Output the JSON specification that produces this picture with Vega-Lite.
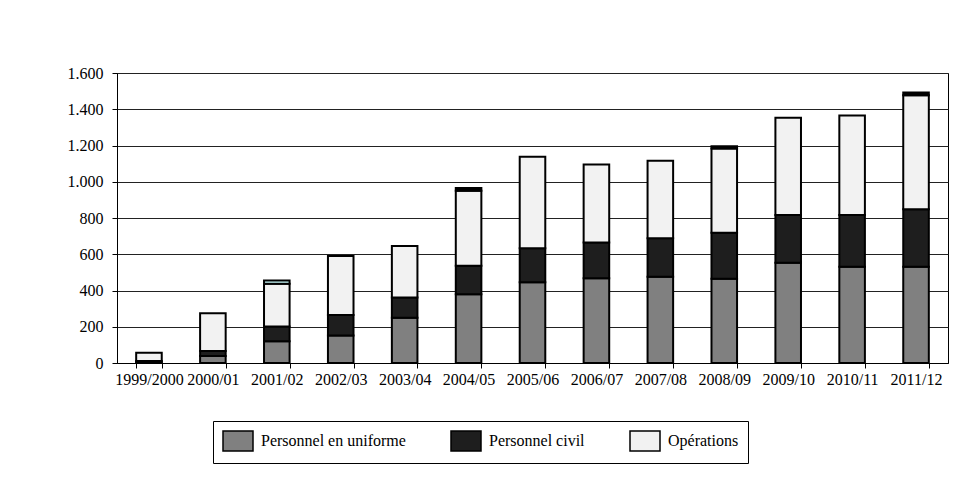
{
  "$schema": "https://vega.github.io/schema/vega-lite/v6.json",
  "width": 831,
  "height": 290,
  "autosize": {"type": "none"},
  "padding": {"left": 117, "top": 73, "right": 5, "bottom": 121},
  "background": "white",
  "config": {
    "font": "Liberation Serif",
    "view": {"stroke": "black", "strokeWidth": 1}
  },
  "data": {
    "values": [
      {"annee": "1999/2000", "serie": "Personnel en uniforme", "rang": 1, "valeur": 3},
      {"annee": "1999/2000", "serie": "Personnel civil", "rang": 2, "valeur": 8},
      {"annee": "1999/2000", "serie": "Opérations", "rang": 3, "valeur": 46},
      {"annee": "2000/01", "serie": "Personnel en uniforme", "rang": 1, "valeur": 38},
      {"annee": "2000/01", "serie": "Personnel civil", "rang": 2, "valeur": 28},
      {"annee": "2000/01", "serie": "Opérations", "rang": 3, "valeur": 209},
      {"annee": "2001/02", "serie": "Personnel en uniforme", "rang": 1, "valeur": 120},
      {"annee": "2001/02", "serie": "Personnel civil", "rang": 2, "valeur": 82},
      {"annee": "2001/02", "serie": "Opérations", "rang": 3, "valeur": 235},
      {"annee": "2001/02", "serie": "Autres (a)", "rang": 4, "valeur": 18},
      {"annee": "2002/03", "serie": "Personnel en uniforme", "rang": 1, "valeur": 152},
      {"annee": "2002/03", "serie": "Personnel civil", "rang": 2, "valeur": 113},
      {"annee": "2002/03", "serie": "Opérations", "rang": 3, "valeur": 325},
      {"annee": "2003/04", "serie": "Personnel en uniforme", "rang": 1, "valeur": 250},
      {"annee": "2003/04", "serie": "Personnel civil", "rang": 2, "valeur": 112},
      {"annee": "2003/04", "serie": "Opérations", "rang": 3, "valeur": 283},
      {"annee": "2004/05", "serie": "Personnel en uniforme", "rang": 1, "valeur": 380},
      {"annee": "2004/05", "serie": "Personnel civil", "rang": 2, "valeur": 157},
      {"annee": "2004/05", "serie": "Opérations", "rang": 3, "valeur": 413},
      {"annee": "2004/05", "serie": "Autres (b)", "rang": 5, "valeur": 15},
      {"annee": "2005/06", "serie": "Personnel en uniforme", "rang": 1, "valeur": 445},
      {"annee": "2005/06", "serie": "Personnel civil", "rang": 2, "valeur": 188},
      {"annee": "2005/06", "serie": "Opérations", "rang": 3, "valeur": 505},
      {"annee": "2006/07", "serie": "Personnel en uniforme", "rang": 1, "valeur": 467},
      {"annee": "2006/07", "serie": "Personnel civil", "rang": 2, "valeur": 198},
      {"annee": "2006/07", "serie": "Opérations", "rang": 3, "valeur": 430},
      {"annee": "2007/08", "serie": "Personnel en uniforme", "rang": 1, "valeur": 476},
      {"annee": "2007/08", "serie": "Personnel civil", "rang": 2, "valeur": 212},
      {"annee": "2007/08", "serie": "Opérations", "rang": 3, "valeur": 428},
      {"annee": "2008/09", "serie": "Personnel en uniforme", "rang": 1, "valeur": 465},
      {"annee": "2008/09", "serie": "Personnel civil", "rang": 2, "valeur": 254},
      {"annee": "2008/09", "serie": "Opérations", "rang": 3, "valeur": 465},
      {"annee": "2008/09", "serie": "Autres (b)", "rang": 5, "valeur": 12},
      {"annee": "2009/10", "serie": "Personnel en uniforme", "rang": 1, "valeur": 553},
      {"annee": "2009/10", "serie": "Personnel civil", "rang": 2, "valeur": 263},
      {"annee": "2009/10", "serie": "Opérations", "rang": 3, "valeur": 537},
      {"annee": "2010/11", "serie": "Personnel en uniforme", "rang": 1, "valeur": 531},
      {"annee": "2010/11", "serie": "Personnel civil", "rang": 2, "valeur": 285},
      {"annee": "2010/11", "serie": "Opérations", "rang": 3, "valeur": 550},
      {"annee": "2011/12", "serie": "Personnel en uniforme", "rang": 1, "valeur": 531},
      {"annee": "2011/12", "serie": "Personnel civil", "rang": 2, "valeur": 317},
      {"annee": "2011/12", "serie": "Opérations", "rang": 3, "valeur": 629},
      {"annee": "2011/12", "serie": "Autres (b)", "rang": 5, "valeur": 15}
    ]
  },
  "mark": {"type": "bar", "stroke": "black", "strokeWidth": 2},
  "encoding": {
    "x": {
      "field": "annee",
      "type": "nominal",
      "sort": ["1999/2000", "2000/01", "2001/02", "2002/03", "2003/04", "2004/05", "2005/06", "2006/07", "2007/08", "2008/09", "2009/10", "2010/11", "2011/12"],
      "scale": {"paddingInner": 0.6, "paddingOuter": 0.3},
      "axis": {
        "title": null,
        "labelAngle": 0,
        "labelFont": "Liberation Serif",
        "labelFontSize": 16,
        "labelColor": "black",
        "labelPadding": 3,
        "labelOverlap": false,
        "tickBand": "extent",
        "tickSize": 5,
        "tickColor": "black",
        "domainColor": "black"
      }
    },
    "y": {
      "field": "valeur",
      "type": "quantitative",
      "stack": "zero",
      "scale": {"domain": [0, 1600], "nice": false},
      "axis": {
        "title": null,
        "values": [0, 200, 400, 600, 800, 1000, 1200, 1400, 1600],
        "labelExpr": "replace(format(datum.value, ','), ',', '.')",
        "labelFont": "Liberation Serif",
        "labelFontSize": 16,
        "labelColor": "black",
        "labelPadding": 9,
        "tickSize": 5,
        "tickColor": "black",
        "domainColor": "black",
        "grid": true,
        "gridColor": "#222222",
        "gridWidth": 1
      }
    },
    "color": {
      "field": "serie",
      "type": "nominal",
      "scale": {
        "domain": ["Personnel en uniforme", "Personnel civil", "Opérations", "Autres (a)", "Autres (b)"],
        "range": ["#808080", "#1e1e1e", "#f2f2f2", "#ccffff", "#000000"]
      },
      "legend": {
        "title": null,
        "values": ["Personnel en uniforme", "Personnel civil", "Opérations"],
        "orient": "none",
        "direction": "horizontal",
        "legendX": 96,
        "legendY": 348,
        "padding": 9,
        "strokeColor": "black",
        "fillColor": "white",
        "symbolType": "M-1,-1H2V1H-1Z",
        "symbolSize": 400,
        "symbolStrokeColor": "black",
        "symbolStrokeWidth": 1.5,
        "symbolOpacity": 1,
        "labelFont": "Liberation Serif",
        "labelFontSize": 16,
        "labelColor": "black",
        "labelOffset": 17,
        "labelLimit": 400,
        "columnPadding": 42
      }
    },
    "order": {"field": "rang", "type": "quantitative"}
  }
}
